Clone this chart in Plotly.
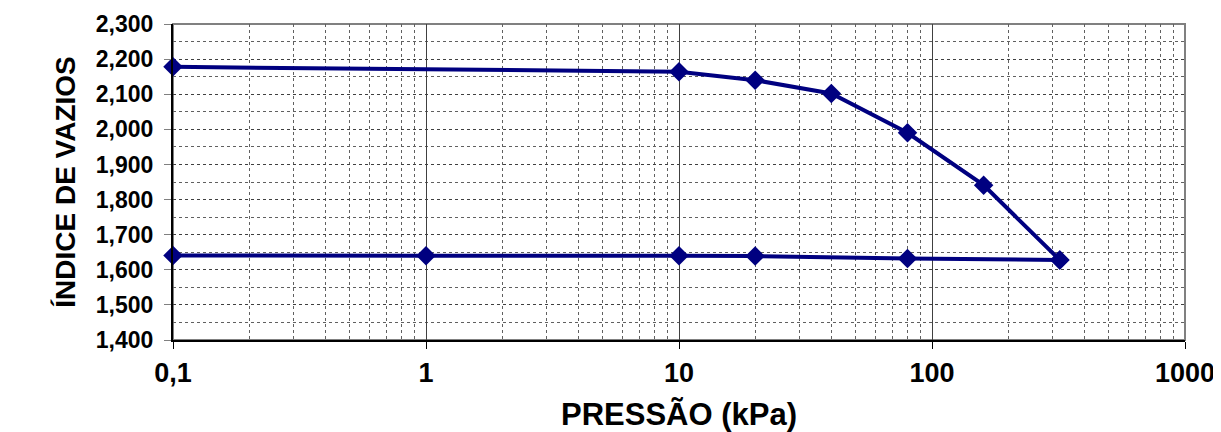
import plotly.graph_objects as go

# ensaio de adensamento: carregamento e descarregamento
pressao_carga = [0.1, 10, 20, 40, 80, 160, 320]
indice_carga = [2.178, 2.164, 2.140, 2.102, 1.990, 1.841, 1.628]

pressao_descarga = [320, 80, 20, 10, 1, 0.1]
indice_descarga = [1.628, 1.632, 1.639, 1.640, 1.640, 1.641]

x_ticks = [0.1, 1, 10, 100, 1000]
x_ticktext = ["0,1", "1", "10", "100", "1000"]

NAVY = "#000080"
FONT = "Liberation Sans, Arial, sans-serif"

fig = go.Figure()
for xs, ys in [(pressao_carga, indice_carga), (pressao_descarga, indice_descarga)]:
    fig.add_trace(
        go.Scatter(
            x=xs,
            y=ys,
            mode="lines+markers",
            line=dict(color=NAVY, width=4),
            marker=dict(symbol="diamond", size=15, color=NAVY),
            showlegend=False,
            cliponaxis=False,
        )
    )

# a página tem 8px de margem no body, por isso a figura é 8px menor
fig.update_layout(
    width=1213,
    height=424,
    margin=dict(l=165, r=36, t=16, b=92),
    paper_bgcolor="white",
    plot_bgcolor="white",
    separators=",.",
    font=dict(family=FONT, color="black"),
    xaxis=dict(
        type="log",
        range=[-1, 3],
        automargin=False,
        tickvals=x_ticks,
        ticktext=x_ticktext,
        tickfont=dict(size=27, family=FONT, weight="bold"),
        ticks="outside",
        ticklen=7,
        tickcolor="black",
        ticklabelstandoff=1,
        showline=True,
        linecolor="black",
        linewidth=2,
        showgrid=True,
        gridcolor="#404040",
        gridwidth=1,
        minor=dict(
            dtick="D1",
            showgrid=True,
            gridcolor="#606060",
            griddash="dot",
            gridwidth=1,
            ticks="",
        ),
        zeroline=False,
        title=dict(
            text="PRESSÃO (kPa)",
            font=dict(size=31, family=FONT, weight="bold"),
            standoff=27,
        ),
    ),
    yaxis=dict(
        range=[1.4, 2.3],
        dtick=0.1,
        tick0=1.4,
        automargin=False,
        tickformat=",.3f",
        tickfont=dict(size=23, family=FONT, weight="bold"),
        ticks="outside",
        ticklen=7,
        tickcolor="#808080",
        ticklabelstandoff=6,
        showline=True,
        linecolor="black",
        linewidth=2,
        showgrid=True,
        gridcolor="#404040",
        griddash="dot",
        gridwidth=1,
        minor=dict(
            dtick=0.05,
            tick0=1.4,
            showgrid=True,
            gridcolor="#606060",
            gridwidth=1,
            ticks="",
        ),
        zeroline=False,
        title=dict(
            text="ÍNDICE DE VAZIOS",
            font=dict(size=28, family=FONT, weight="bold"),
            standoff=12,
        ),
    ),
)

# borda superior e direita da área de plotagem
fig.add_shape(
    type="rect", xref="paper", yref="paper", x0=0, x1=1, y0=0, y1=1,
    line=dict(color="#808080", width=2), layer="below",
)
# borda esquerda da área do gráfico
fig.add_shape(
    type="line", xref="paper", yref="paper", x0=-0.164, x1=-0.164, y0=-0.3, y1=1.1,
    line=dict(color="#808080", width=1),
)

fig.write_html("out.html")
